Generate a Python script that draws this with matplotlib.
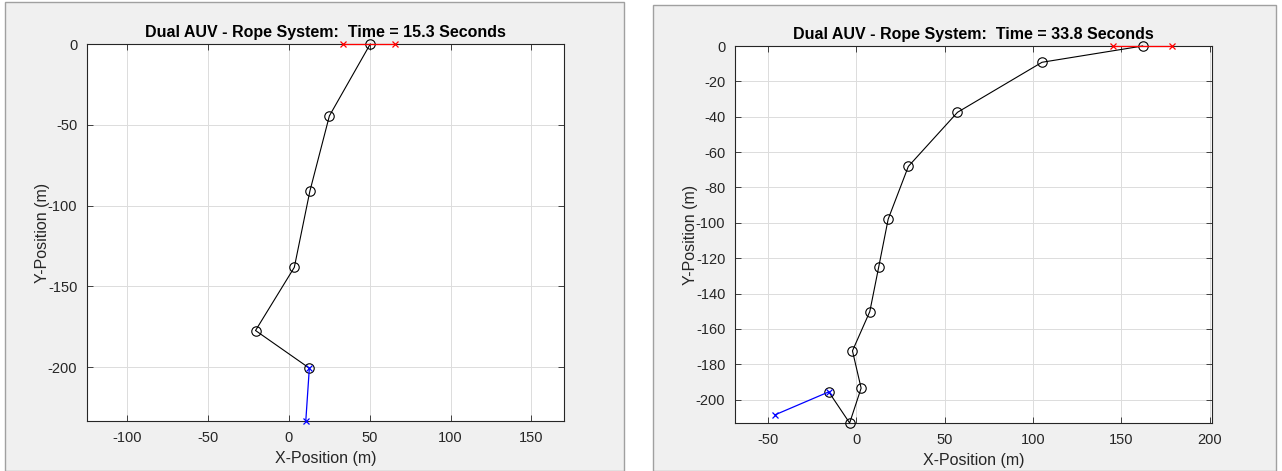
import matplotlib
matplotlib.use("Agg")
import matplotlib.pyplot as plt
from matplotlib.patches import Rectangle
import numpy as np

plt.rcParams['font.family'] = ['Liberation Sans', 'DejaVu Sans']
plt.rcParams['axes.unicode_minus'] = False

# snapshot at t = 15.3 s
time_a = 15.3
rope_a_x = [50.3, 25.0, 12.9, 3.3, -20.7, 12.6]
rope_a_y = [0.0, -44.5, -91.2, -138.2, -177.3, -200.6]
lead_a_x = [33.6, 65.9]
lead_a_y = [0.0, 0.0]
tail_a_x = [12.6, 10.4]
tail_a_y = [-200.6, -233.3]
xticks_a = [-100, -50, 0, 50, 100, 150]
yticks_a = [0, -50, -100, -150, -200]

# snapshot at t = 33.8 s
time_b = 33.8
rope_b_x = [162.0, 105.1, 57.3, 29.5, 18.1, 12.8, 7.7, -2.1, 2.8, -3.7, -15.5]
rope_b_y = [0.0, -9.2, -37.5, -68.1, -97.9, -124.7, -150.2, -172.4, -193.5, -213.2, -195.6]
lead_b_x = [145.5, 178.4]
lead_b_y = [0.0, 0.0]
tail_b_x = [-15.5, -45.7]
tail_b_y = [-195.6, -208.5]
xticks_b = [-50, 0, 50, 100, 150, 200]
yticks_b = [0, -20, -40, -60, -80, -100, -120, -140, -160, -180, -200]

W, H = 1282, 471
fig = plt.figure(figsize=(W / 100, H / 100), dpi=100)
fig.patch.set_facecolor('white')

# grey window backgrounds
for x0, y0, x1 in [(5, 7, 624), (653, 10, 1276)]:
    fig.patches.append(Rectangle((x0 / W, 0), (x1 - x0) / W, (H - y0) / H + 0.01,
                                 transform=fig.transFigure, facecolor='#f0f0f0',
                                 edgecolor='#a0a0a0', lw=1, zorder=-10))

ax_w, ax_h = 477, 377
ax1 = fig.add_axes([87 / W, (H - 421) / H, ax_w / W, ax_h / H])
ax2 = fig.add_axes([735 / W, (H - 423) / H, ax_w / W, ax_h / H])

panels = [
    (ax1, time_a, rope_a_x, rope_a_y, lead_a_x, lead_a_y, tail_a_x, tail_a_y, xticks_a, yticks_a),
    (ax2, time_b, rope_b_x, rope_b_y, lead_b_x, lead_b_y, tail_b_x, tail_b_y, xticks_b, yticks_b),
]

dark = '#262626'
for ax, t, rx, ry, lx, ly, tx, ty, xt, yt in panels:
    ax.plot(rx, ry, color='black', lw=0.8, marker='o', ms=6.8, mfc='none', mec='black',
            mew=0.8, clip_on=False, zorder=3)
    ax.plot(lx, ly, color='red', lw=0.9, marker='x', ms=5, mew=0.9, clip_on=False, zorder=4)
    ax.plot(tx, ty, color='blue', lw=0.9, marker='x', ms=5, mew=0.9, clip_on=False, zorder=4)

    # axis equal, tight on y
    all_x = rx + lx + tx
    all_y = ry + ly + ty
    ylo, yhi = min(all_y), max(all_y)
    xc = (min(all_x) + max(all_x)) / 2
    half = (yhi - ylo) * ax_w / ax_h / 2
    ax.set_xlim(xc - half, xc + half)
    ax.set_ylim(ylo, yhi)

    ax.set_xticks(xt)
    ax.set_yticks(yt)
    ax.grid(True, color='#dcdcdc', lw=0.7)
    ax.set_axisbelow(True)
    ax.tick_params(direction='in', length=4, width=0.6, colors=dark, labelsize=10.5,
                   top=True, right=True, pad=7)
    for s in ax.spines.values():
        s.set_color(dark)
        s.set_linewidth(0.8)

    ax.set_title(f'Dual AUV - Rope System:  Time = {t} Seconds',
                 fontsize=11.5, fontweight='bold', color='black', pad=5)
    ax.set_xlabel('X-Position (m)', fontsize=11.5, color=dark)
    ax.set_ylabel('Y-Position (m)', fontsize=11.5, color=dark)
    ax.xaxis.set_label_coords(0.5, -0.08)
    ax.yaxis.set_label_coords(-0.078, 0.5)

fig.savefig('out.png', dpi=100)
